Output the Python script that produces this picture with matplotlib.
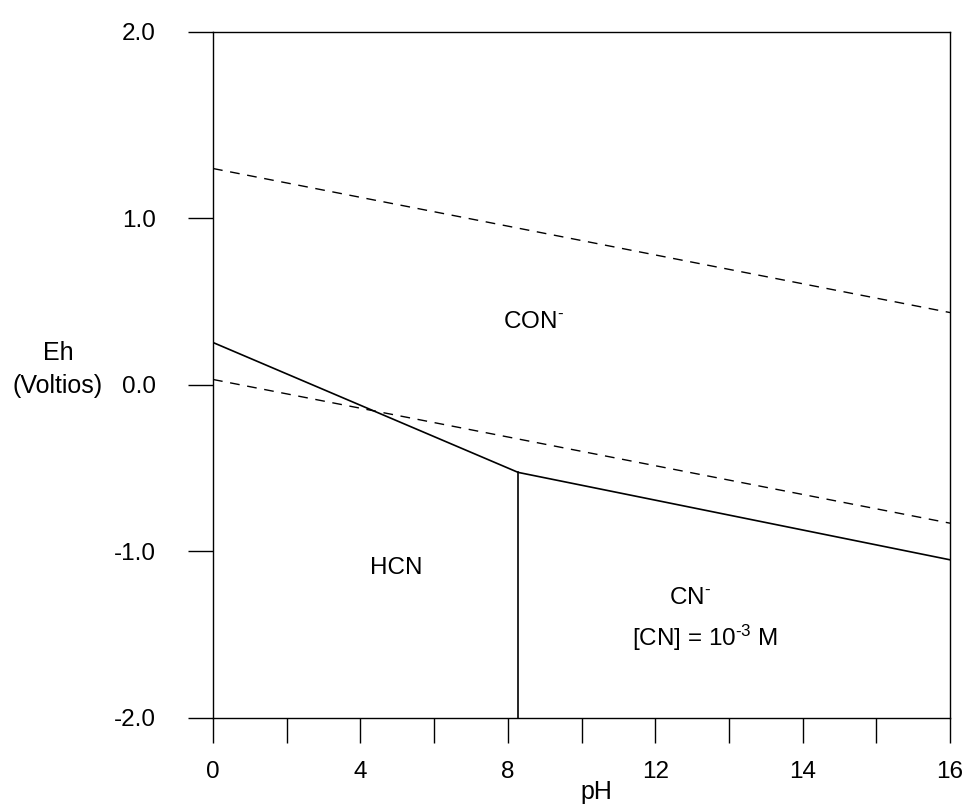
import matplotlib.pyplot as plt
import numpy as np

plt.rcParams['font.family'] = ['Liberation Sans', 'DejaVu Sans']
plt.rcParams['mathtext.fontset'] = 'custom'
plt.rcParams['mathtext.rm'] = 'Liberation Sans'
plt.rcParams['mathtext.it'] = 'Liberation Sans:italic'

# axis ticks (labels as printed on the original diagram)
x_ticks = [0, 2, 4, 6, 8, 10, 12, 14, 16, 18, 20]
x_labels = ['0', '', '4', '', '8', '', '12', '', '14', '', '16']
y_ticks = [-2.0, -1.0, 0.0, 1.0, 2.12]
y_labels = ['-2.0', '-1.0', '0.0', '1.0', '2.0']

# dashed water stability lines
upper_x = [0, 20]
upper_y = [1.30, 0.435]
lower_x = [0, 20]
lower_y = [0.033, -0.83]

# solid boundaries
bound_x = [0, 8.28, 20]
bound_y = [0.255, -0.525, -1.05]
vert_x = [8.28, 8.28]
vert_y = [-0.525, -2.0]

# region labels
regions = [r'CON$^{\text{-}}$', 'HCN', r'CN$^{\text{-}}$', r'[CN] = 10$^{\text{-3}}$ M']
reg_x = [8.7, 4.96, 12.95, 13.35]
reg_y = [0.38, -1.10, -1.28, -1.52]

fig = plt.figure(figsize=(9.64, 8.08), dpi=100)
ax = fig.add_axes([0.221, 0.1114, 0.7645, 0.849])

dash = (7, 5.5)
ax.plot(upper_x, upper_y, color='black', lw=1.0, dashes=dash)
ax.plot(lower_x, lower_y, color='black', lw=1.0, dashes=dash)
ax.plot(bound_x, bound_y, color='black', lw=1.2)
ax.plot(vert_x, vert_y, color='black', lw=1.2)

for txt, x, y in zip(regions, reg_x, reg_y):
    ax.text(x, y, txt, ha='center', va='center', fontsize=17.5)

ax.set_xlim(0, 20)
ax.set_ylim(-2.0, 2.12)
ax.set_xticks(x_ticks)
ax.set_xticklabels(x_labels)
ax.set_yticks(y_ticks)
ax.set_yticklabels(y_labels)
ax.tick_params(axis='both', direction='out', length=18, width=1.0, labelsize=17.5)
ax.tick_params(axis='x', pad=13)
ax.tick_params(axis='y', pad=23)
for s in ax.spines.values():
    s.set_linewidth(1.0)

fig.text(0.060, 1 - 353 / 808, 'Eh', ha='center', va='center', fontsize=18)
fig.text(0.060, 1 - 386 / 808, '(Voltios)', ha='center', va='center', fontsize=18)
fig.text(0.619, 0.0198, 'pH', ha='center', va='center', fontsize=18)

fig.savefig('out.png', dpi=100)
